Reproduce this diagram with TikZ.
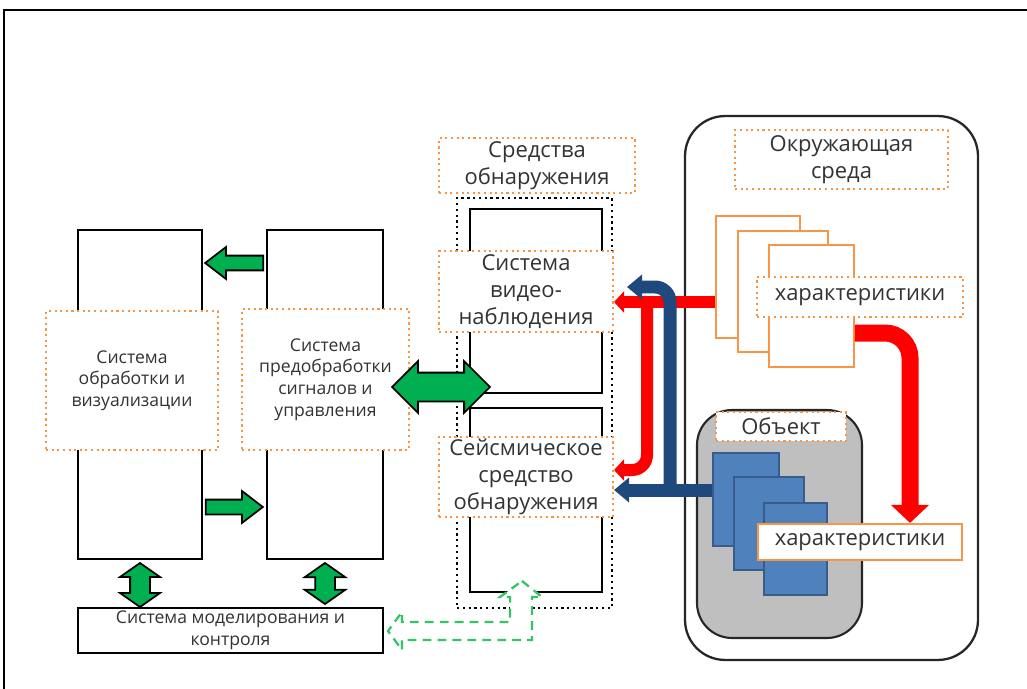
\documentclass[tikz,border=0pt]{standalone}
\usepackage{fontspec}
\setmainfont{Open Sans}
\usetikzlibrary{shapes.arrows, arrows.meta}

\definecolor{txtgray}{HTML}{333333}
\definecolor{boxorange}{HTML}{F79646}
\definecolor{arrgreen}{HTML}{00B050}
\definecolor{dashgreen}{HTML}{33C46A}
\definecolor{objblue}{HTML}{4F81BD}
\definecolor{objedge}{HTML}{385D8A}
\definecolor{flowblue}{HTML}{1F497D}
\definecolor{objgray}{HTML}{BFBFBF}

\tikzset{
    sysbox/.style={draw=black, line width=1.4pt, fill=white, inner sep=0pt},
    tagbox/.style={draw=boxorange, dotted, line width=1.2pt, fill=white, align=center,
        text=txtgray, inner sep=1pt},
    smalltxt/.style={font=\fontsize{10}{12.3}\selectfont},
    bigtxt/.style={font=\fontsize{12.5}{15.3}\selectfont},
    pagebox/.style={draw=boxorange, line width=1pt, fill=white, inner sep=0pt},
    bluepage/.style={draw=objedge, line width=0.8pt, fill=objblue, inner sep=0pt},
    greenarr/.style={draw=black, line width=1pt, fill=arrgreen, inner xsep=0pt},
    redflow/.style={draw=red, line width=0.24cm, -{Triangle[length=0.2cm, width=0.42cm]}},
    blueflow/.style={draw=flowblue, line width=0.26cm, -{Triangle[length=0.3cm, width=0.48cm]}},
    bigred/.style={draw=red, line width=0.34cm, -{Triangle[length=0.36cm, width=0.74cm]}},
}

\begin{document}
\begin{tikzpicture}[x=0.02cm, y=-0.02cm]
    \useasboundingbox (0,0) rectangle (1027,689);
    \draw[line width=1.2pt] (4,689) -- (4,10) -- (1027,10);

    % processing and control
    \node[sysbox, minimum width=2.48cm, minimum height=6.58cm] (colA) at (140,394.5) {};
    \node[sysbox, minimum width=2.32cm, minimum height=6.58cm] (colB) at (325,394.5) {};
    \node[tagbox, smalltxt, minimum width=3.44cm, minimum height=2.78cm] (txtA) at (132,380.5)
        {Система\\обработки и\\визуализации};
    \node[tagbox, smalltxt, minimum width=3.34cm, minimum height=2.82cm] (txtB) at (325.5,379.5)
        {Система\\предобработки\\сигналов и\\управления};
    \node[sysbox, smalltxt, text=txtgray, align=center, minimum width=6.1cm, minimum height=0.9cm] (model)
        at (230.5,630.5) {Система моделирования и\\контроля};

    % detection means
    \node[draw, dotted, line width=1.3pt, minimum width=3.1cm, minimum height=8.2cm] (detFrame) at (534.5,403) {};
    \node[tagbox, bigtxt, minimum width=3.92cm, minimum height=1.1cm] (detTitle) at (537,165.5)
        {Средства\\обнаружения};
    \node[sysbox, minimum width=2.64cm, minimum height=3.68cm] (video) at (536,301) {};
    \node[sysbox, minimum width=2.64cm, minimum height=3.68cm] (seis) at (536,500) {};
    \node[tagbox, bigtxt, minimum width=3.48cm, minimum height=1.62cm] (videoTxt) at (526,291.5)
        {Система\\видео-\\наблюдения};
    \node[tagbox, bigtxt, minimum width=3.48cm, minimum height=1.6cm] (seisTxt) at (526,477)
        {Сейсмическое\\средство\\обнаружения};

    % environment
    \node[draw=black!85, line width=1.3pt, rounded corners=0.8cm, minimum width=5.86cm,
        minimum height=10.88cm] (env) at (831.5,388) {};
    \node[tagbox, bigtxt, minimum width=4.26cm, minimum height=1.18cm] (envTitle) at (841.5,159.5)
        {Окружающая\\среда};
    \node[pagebox, minimum width=1.68cm, minimum height=2.44cm] (p1) at (758,277) {};
    \node[pagebox, minimum width=1.8cm, minimum height=2.42cm] (p2) at (783,291.5) {};
    \node[pagebox, minimum width=1.7cm, minimum height=2.44cm] (p3) at (811.5,306) {};
    \node[tagbox, bigtxt, minimum width=4.12cm, minimum height=0.8cm] (envChar) at (860,297)
        {характеристики};

    % object
    \node[draw=black!85, fill=objgray, line width=1.2pt, rounded corners=0.7cm, minimum width=3.3cm,
        minimum height=4.56cm] (obj) at (779.5,524) {};
    \node[tagbox, bigtxt, minimum width=2.6cm, minimum height=0.58cm] (objTitle) at (781,426.5) {Объект};
    \node[bluepage, minimum width=1.32cm, minimum height=1.86cm] (b1) at (746,499.5) {};
    \node[bluepage, minimum width=1.4cm, minimum height=1.86cm] (b2) at (769,523.5) {};
    \node[bluepage, minimum width=1.26cm, minimum height=1.84cm] (b3) at (795.5,549) {};
    \node[pagebox, bigtxt, text=txtgray, line width=1.2pt, minimum width=4.08cm, minimum height=0.72cm]
        (objChar) at (860,542) {характеристики};

    % green block arrows
    \node[greenarr, single arrow, inner ysep=0.13cm, single arrow head extend=0.17cm,
        single arrow tip angle=75, minimum height=1.16cm, rotate=180] (arBA) at (239,263) {};
    \node[greenarr, single arrow, inner ysep=0.13cm, single arrow head extend=0.17cm,
        single arrow tip angle=75, minimum height=1.14cm] (arAB) at (229.5,507) {};
    \node[greenarr, double arrow, inner ysep=0.27cm, double arrow head extend=0.23cm,
        minimum height=1.96cm] (arDet) at (441,387) {};
    \node[greenarr, double arrow, inner ysep=0.18cm, double arrow head extend=0.2cm,
        double arrow tip angle=110, minimum height=0.88cm, rotate=90] (arAM) at (140,585) {};
    \node[greenarr, double arrow, inner ysep=0.18cm, double arrow head extend=0.21cm,
        double arrow tip angle=110, minimum height=0.82cm, rotate=90] (arBM) at (325,583.5) {};

    % model feedback
    \draw[draw=dashgreen, fill=white, line width=1.3pt, dash pattern=on 5pt off 3.5pt]
        (522,581) -- (542,597) -- (532,597) -- (532,640) -- (402,640) -- (402,650) -- (388,631)
        -- (402,612) -- (402,622) -- (510,622) -- (510,597) -- (500,597) -- cycle;

    % signal flows
    \coordinate (rj) at (647,302);
    \coordinate (rb) at (647,470);
    \draw[redflow] (p1.west |- rj) -- (videoTxt.east |- rj);
    \draw[redflow, rounded corners=0.3cm] (rj) -- (rb) -- (seisTxt.east |- rb);

    \coordinate (bj) at (670,490);
    \coordinate (bt) at (670,287);
    \draw[blueflow] (b1.west |- bj) -- (seisTxt.east |- bj);
    \draw[blueflow, rounded corners=0.3cm] (bj) -- (bt) -- (627,287);

    \coordinate (rk) at (910,333);
    \draw[bigred, rounded corners=0.5cm] (p3.east |- rk) -- (rk) -- (rk |- objChar.north);
\end{tikzpicture}
\end{document}
